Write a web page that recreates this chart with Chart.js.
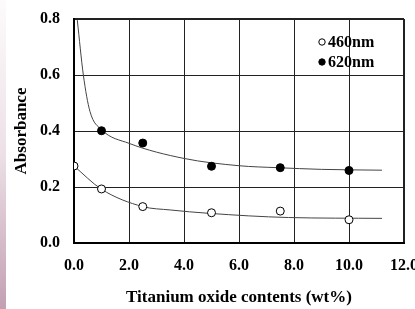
<!DOCTYPE html>
<html>
<head>
<meta charset="utf-8">
<script src="https://cdn.jsdelivr.net/npm/chart.js@4.4.0/dist/chart.umd.min.js"></script>
<style>
  html, body { margin: 0; padding: 0; background: #fff; }
  #wrap { position: relative; width: 415px; height: 309px; }
  #strip { position: absolute; left: 0; top: 0; width: 6px; height: 309px;
    background: linear-gradient(to bottom, #fdfbfc 0%, #ece0e6 50%, #c39fb3 100%); }
  canvas { position: absolute; left: 0; top: 0; }
</style>
</head>
<body>
<div id="wrap">
  <div id="strip"></div>
  <canvas id="chart" width="415" height="309"></canvas>
</div>
<script>
// measured values
const contents = [0, 1, 2.5, 5, 7.5, 10];
const abs460 = [0.275, 0.193, 0.13, 0.108, 0.114, 0.083];
const contents620 = [1, 2.5, 5, 7.5, 10];
const abs620 = [0.401, 0.357, 0.274, 0.269, 0.259];

// fitted curves
const fit460X = [0, 1, 2.5, 3.5, 4.9, 7.8, 11.2];
const fit460Y = [0.275, 0.192, 0.13, 0.118, 0.106, 0.091, 0.088];
const fit620X = [0.12, 0.34, 0.58, 1.0, 2.0, 4.0, 6.0, 7.4, 9.0, 11.2];
const fit620Y = [0.796, 0.6, 0.47, 0.405, 0.356, 0.302, 0.276, 0.269, 0.263, 0.26];

const xTicks = [0, 2, 4, 6, 8, 10, 12];
const yTicks = [0, 0.2, 0.4, 0.6, 0.8];

const toXY = (xs, ys) => xs.map((x, i) => ({ x: x, y: ys[i] }));

const serif = '"Liberation Serif", "Times New Roman", serif';

// simple legend drawn in the top right of the plot
const legendPlugin = {
  id: 'cornerLegend',
  afterDraw(chart) {
    const { ctx, chartArea } = chart;
    const items = [chart.data.datasets[0], chart.data.datasets[1]];
    ctx.save();
    ctx.font = 'bold 16px ' + serif;
    ctx.textBaseline = 'middle';
    items.forEach((ds, i) => {
      const x = chartArea.right - 82;
      const y = chartArea.top + 23 + i * 20;
      ctx.beginPath();
      ctx.arc(x, y, 3.2, 0, Math.PI * 2);
      ctx.fillStyle = ds.backgroundColor;
      ctx.fill();
      ctx.lineWidth = 1;
      ctx.strokeStyle = '#000';
      ctx.stroke();
      ctx.fillStyle = '#000';
      ctx.fillText(ds.label, x + 6, y + 1);
    });
    ctx.restore();
  }
};

new Chart(document.getElementById('chart'), {
  type: 'scatter',
  data: {
    datasets: [
      {
        label: '460nm',
        data: toXY(contents, abs460),
        backgroundColor: '#fff',
        borderColor: '#000',
        borderWidth: 1,
        pointRadius: 4,
        order: 0
      },
      {
        label: '620nm',
        data: toXY(contents620, abs620),
        backgroundColor: '#000',
        borderColor: '#000',
        borderWidth: 1,
        pointRadius: 4,
        order: 0
      },
      {
        label: 'fit460',
        data: toXY(fit460X, fit460Y),
        showLine: true,
        borderColor: '#444',
        borderWidth: 1,
        pointRadius: 0,
        cubicInterpolationMode: 'monotone',
        order: 1
      },
      {
        label: 'fit620',
        data: toXY(fit620X, fit620Y),
        showLine: true,
        borderColor: '#444',
        borderWidth: 1,
        pointRadius: 0,
        cubicInterpolationMode: 'monotone',
        order: 1
      }
    ]
  },
  options: {
    responsive: false,
    animation: false,
    layout: { padding: { top: 19, right: 11, left: 0, bottom: 0 } },
    plugins: {
      legend: { display: false },
      tooltip: { enabled: false }
    },
    scales: {
      x: {
        type: 'linear',
        min: 0,
        max: 12,
        afterFit(scale) {
          scale.height = 66;
          scale.paddingLeft = 0;
          scale.paddingRight = 0;
        },
        afterBuildTicks(scale) { scale.ticks = xTicks.map(v => ({ value: v })); },
        grid: {
          drawTicks: false,
          color: '#222',
          lineWidth: c => (c.tick && c.tick.value === 12 ? 2 : 1)
        },
        border: { color: '#000', width: 2 },
        ticks: {
          padding: 13,
          color: '#000',
          font: { family: serif, size: 16, weight: 'bold' },
          callback: v => v.toFixed(1)
        },
        title: {
          display: true,
          text: 'Titanium oxide contents (wt%)',
          color: '#000',
          font: { family: serif, size: 17, weight: 'bold' },
          padding: { top: 0, bottom: 1 }
        }
      },
      y: {
        min: 0,
        max: 0.8,
        afterFit(scale) {
          scale.width = 74;
          scale.paddingTop = 0;
          scale.paddingBottom = 0;
        },
        afterBuildTicks(scale) { scale.ticks = yTicks.map(v => ({ value: v })); },
        grid: {
          drawTicks: false,
          color: '#222',
          lineWidth: c => (c.tick && Math.abs(c.tick.value - 0.8) < 1e-9 ? 2 : 1)
        },
        border: { color: '#000', width: 2 },
        ticks: {
          padding: 14,
          color: '#000',
          font: { family: serif, size: 16, weight: 'bold' },
          callback: v => v.toFixed(1)
        },
        title: {
          display: true,
          text: 'Absorbance',
          color: '#000',
          font: { family: serif, size: 17, weight: 'bold' },
          padding: { top: 11, bottom: 0 }
        }
      }
    }
  },
  plugins: [legendPlugin]
});
</script>
</body>
</html>
